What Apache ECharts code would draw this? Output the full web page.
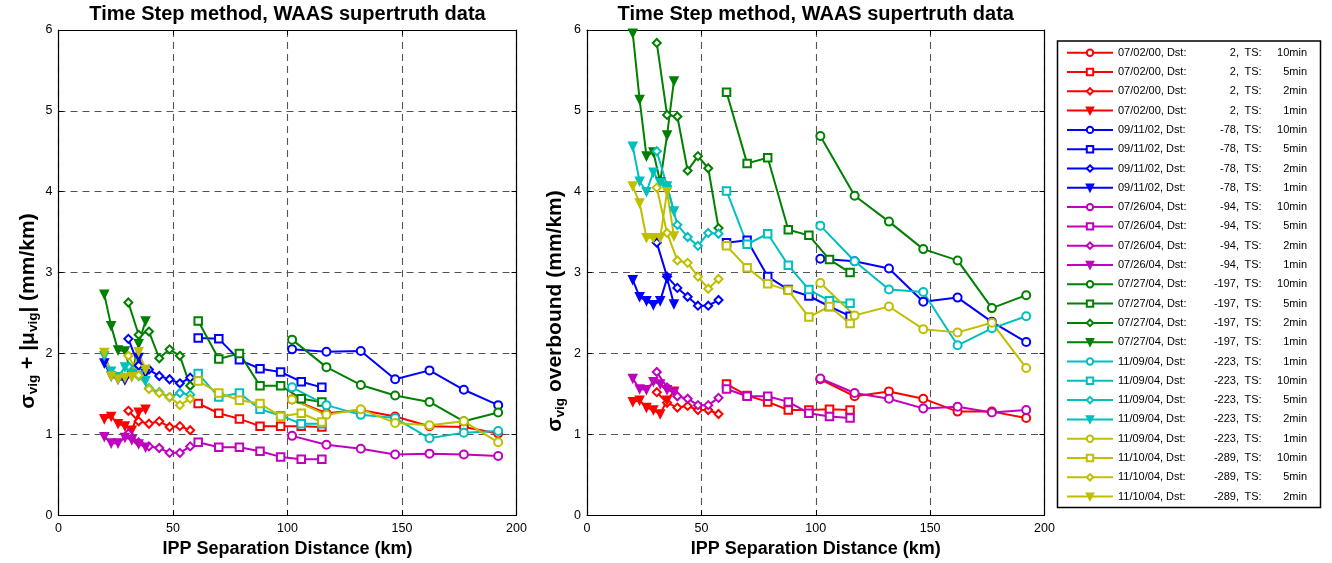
<!DOCTYPE html>
<html>
<head>
<meta charset="utf-8">
<script src="https://cdn.jsdelivr.net/npm/echarts@6.0.0/dist/echarts.min.js"></script>
<style>
  html, body { margin: 0; padding: 0; background: #fff; }
  #chart { width: 1332px; height: 563px; }
</style>
</head>
<body>
<div id="chart"></div>
<script>
// IPP separation distances (km) for each time-step set
const xTen = [102, 117, 132, 147, 162, 177, 192];
const xFive = [61, 70, 79, 88, 97, 106, 115];
const xTwo = [30.5, 35, 39.5, 44, 48.5, 53, 57.5];
const xOne = [20, 23, 26, 29, 32, 35, 38];

const xTicks = [0, 50, 100, 150, 200];
const yTicks = [0, 1, 2, 3, 4, 5, 6];

const legendNames = [
  '07/02/00, Dst:    2, TS: 10min',
  '07/02/00, Dst:    2, TS:  5min',
  '07/02/00, Dst:    2, TS:  2min',
  '07/02/00, Dst:    2, TS:  1min',
  '09/11/02, Dst:  -78, TS: 10min',
  '09/11/02, Dst:  -78, TS:  5min',
  '09/11/02, Dst:  -78, TS:  2min',
  '09/11/02, Dst:  -78, TS:  1min',
  '07/26/04, Dst:  -94, TS: 10min',
  '07/26/04, Dst:  -94, TS:  5min',
  '07/26/04, Dst:  -94, TS:  2min',
  '07/26/04, Dst:  -94, TS:  1min',
  '07/27/04, Dst: -197, TS: 10min',
  '07/27/04, Dst: -197, TS:  5min',
  '07/27/04, Dst: -197, TS:  2min',
  '07/27/04, Dst: -197, TS:  1min',
  '11/09/04, Dst: -223, TS:  1min',
  '11/09/04, Dst: -223, TS: 10min',
  '11/09/04, Dst: -223, TS:  5min',
  '11/09/04, Dst: -223, TS:  2min',
  '11/09/04, Dst: -223, TS:  1min\u200b',
  '11/10/04, Dst: -289, TS: 10min',
  '11/10/04, Dst: -289, TS:  5min',
  '11/10/04, Dst: -289, TS:  2min'
];

const groupColors = ['#ff0000', '#0000ff', '#bf00bf', '#008000', '#00bfbf', '#bfbf00'];

// Left panel: sigma_vig + |mu_vig| (mm/km); rows = circle, square, diamond, triangle sets
const left070200 = [
  [1.43, 1.26, 1.30, 1.22, 1.10, 1.09, 1.01],
  [1.38, 1.26, 1.19, 1.10, 1.10, 1.10, 1.09],
  [1.29, 1.16, 1.13, 1.16, 1.09, 1.10, 1.05],
  [1.19, 1.22, 1.13, 1.10, 1.05, 1.27, 1.31]
];
const left091102 = [
  [2.05, 2.02, 2.03, 1.68, 1.79, 1.55, 1.36],
  [2.19, 2.18, 1.92, 1.81, 1.77, 1.65, 1.58],
  [2.18, 1.85, 1.80, 1.72, 1.68, 1.63, 1.70],
  [1.88, 1.72, 1.68, 1.67, 1.73, 1.95, 1.75]
];
const left072604 = [
  [0.98, 0.87, 0.82, 0.75, 0.76, 0.75, 0.73],
  [0.90, 0.84, 0.84, 0.79, 0.72, 0.69, 0.69],
  [1.01, 0.90, 0.85, 0.83, 0.77, 0.77, 0.85],
  [0.97, 0.89, 0.89, 0.96, 0.93, 0.88, 0.84]
];
const left072704 = [
  [2.17, 1.83, 1.61, 1.48, 1.40, 1.16, 1.27],
  [2.40, 1.93, 2.00, 1.60, 1.60, 1.44, 1.40],
  [2.63, 2.23, 2.27, 1.94, 2.05, 1.97, 1.60],
  [2.73, 2.34, 2.04, 2.03, 1.72, 2.12, 2.40]
];
const left110904 = [
  [1.58, 1.36, 1.24, 1.20, 0.95, 1.02, 1.04],
  [1.75, 1.46, 1.51, 1.31, 1.23, 1.13, 1.13],
  [1.84, 1.72, 1.57, 1.52, 1.46, 1.51, 1.49],
  [1.97, 1.78, 1.71, 1.83, 1.75, 1.73, 1.66]
];
const left111004 = [
  [1.43, 1.24, 1.31, 1.14, 1.11, 1.16, 0.90],
  [1.66, 1.51, 1.42, 1.38, 1.22, 1.26, 1.15],
  [1.97, 1.73, 1.56, 1.51, 1.46, 1.36, 1.44],
  [2.01, 1.72, 1.68, 1.70, 1.71, 2.02, 1.80]
];

// Right panel: sigma_vig overbound (mm/km)
const right070200 = [
  [1.68, 1.47, 1.53, 1.44, 1.28, 1.28, 1.20],
  [1.62, 1.48, 1.40, 1.30, 1.30, 1.31, 1.30],
  [1.52, 1.39, 1.33, 1.35, 1.30, 1.30, 1.25],
  [1.40, 1.42, 1.33, 1.30, 1.25, 1.42, 1.53]
];
const right091102 = [
  [3.17, 3.14, 3.05, 2.64, 2.69, 2.39, 2.14],
  [3.37, 3.40, 2.95, 2.79, 2.71, 2.58, 2.46],
  [3.37, 2.95, 2.81, 2.70, 2.59, 2.59, 2.66],
  [2.91, 2.70, 2.65, 2.60, 2.65, 2.93, 2.61]
];
const right072604 = [
  [1.69, 1.51, 1.44, 1.32, 1.34, 1.27, 1.30],
  [1.56, 1.47, 1.47, 1.40, 1.26, 1.22, 1.20],
  [1.77, 1.58, 1.47, 1.44, 1.36, 1.36, 1.45],
  [1.69, 1.56, 1.55, 1.65, 1.62, 1.55, 1.52]
];
const right072704 = [
  [4.69, 3.95, 3.63, 3.29, 3.15, 2.56, 2.72],
  [5.23, 4.35, 4.42, 3.53, 3.46, 3.16, 3.00],
  [5.84, 4.95, 4.93, 4.26, 4.44, 4.29, 3.55],
  [5.96, 5.14, 4.44, 4.49, 4.12, 4.70, 5.37]
];
const right110904 = [
  [3.58, 3.14, 2.79, 2.76, 2.10, 2.31, 2.46],
  [4.01, 3.35, 3.48, 3.09, 2.79, 2.65, 2.62],
  [4.50, 4.07, 3.59, 3.44, 3.33, 3.49, 3.48],
  [4.56, 4.13, 4.00, 4.24, 4.11, 4.07, 3.76]
];
const right111004 = [
  [2.87, 2.47, 2.58, 2.30, 2.26, 2.38, 1.82],
  [3.33, 3.06, 2.86, 2.78, 2.45, 2.58, 2.37],
  [4.05, 3.49, 3.15, 3.12, 2.95, 2.80, 2.92],
  [4.07, 3.86, 3.43, 3.43, 3.43, 4.00, 3.45]
];

const leftGroups = [left070200, left091102, left072604, left072704, left110904, left111004];
const rightGroups = [right070200, right091102, right072604, right072704, right110904, right111004];
const xByMarker = [xTen, xFive, xTwo, xOne];

const markerStyles = [
  { symbol: 'emptyCircle', symbolSize: 8, symbolRotate: 0 },
  { symbol: 'emptyRect', symbolSize: 7.5, symbolRotate: 0 },
  { symbol: 'emptyDiamond', symbolSize: 8, symbolRotate: 0 },
  { symbol: 'triangle', symbolSize: 8, symbolRotate: 180 }
];

const FONT = "'Liberation Sans', Arial, Helvetica, sans-serif";

function buildSeries(groups, axisIndex) {
  const out = [];
  groups.forEach((rows, g) => {
    rows.forEach((vals, m) => {
      const color = groupColors[g];
      out.push(Object.assign({
        type: 'line',
        name: legendNames[g * 4 + m],
        xAxisIndex: axisIndex,
        yAxisIndex: axisIndex,
        data: vals.map((v, i) => [xByMarker[m][i], v]),
        lineStyle: { color: color, width: 2 },
        itemStyle: { color: color, borderColor: color, borderWidth: 1.6 },
        emphasis: { disabled: true },
        showAllSymbol: true,
        animation: false,
        silent: true
      }, markerStyles[m]));
    });
  });
  return out;
}

const grids = [
  { left: 58.5, right: 1332 - 516.5, top: 30, bottom: 563 - 516 },
  { left: 587, right: 1332 - 1044.5, top: 30, bottom: 563 - 516 }
];

const frameLine = { show: true, onZero: false, lineStyle: { color: '#000', width: 1.2 } };
const innerTick = { show: true, inside: true, length: 5, lineStyle: { color: '#000', width: 1 } };
const gridDash = { show: true, lineStyle: { color: '#555', width: 1.1, type: [7, 5] } };
const tickFont = { color: '#000', fontSize: 12.5, fontFamily: FONT };

function xAxesFor(gridIndex) {
  return [
    {
      type: 'value', gridIndex: gridIndex, position: 'bottom',
      min: xTicks[0], max: xTicks[xTicks.length - 1], interval: xTicks[1] - xTicks[0],
      axisLine: frameLine, axisTick: innerTick, splitLine: gridDash,
      axisLabel: Object.assign({ margin: 7 }, tickFont),
      name: 'IPP Separation Distance (km)', nameLocation: 'middle', nameGap: 23,
      nameTextStyle: { color: '#000', fontSize: 18, fontWeight: 'bold', fontFamily: FONT }
    },
    {
      type: 'value', gridIndex: gridIndex, position: 'top',
      min: xTicks[0], max: xTicks[xTicks.length - 1], interval: xTicks[1] - xTicks[0],
      axisLine: frameLine, axisTick: innerTick, splitLine: { show: false },
      axisLabel: { show: false }
    }
  ];
}
function yAxesFor(gridIndex) {
  return [
    {
      type: 'value', gridIndex: gridIndex, position: 'left',
      min: yTicks[0], max: yTicks[yTicks.length - 1], interval: 1,
      axisLine: frameLine, axisTick: innerTick, splitLine: gridDash,
      axisLabel: Object.assign({ margin: 6 }, tickFont)
    },
    {
      type: 'value', gridIndex: gridIndex, position: 'right',
      min: yTicks[0], max: yTicks[yTicks.length - 1], interval: 1,
      axisLine: frameLine, axisTick: innerTick, splitLine: { show: false },
      axisLabel: { show: false }
    }
  ];
}

// Legend text columns: date + "Dst:", right-aligned Dst value, "TS:", right-aligned step
const legendRow = 19.3;
const legendSize = 11;
const legendFont = { fontSize: legendSize, fontFamily: FONT, color: '#000', lineHeight: legendRow };
const textX0 = 1066 + 46 + 5;
const dstRight = 1238, tsLeft = 1243.5, stepRight = 1306;

const measureCtx = document.createElement('canvas').getContext('2d');
function textWidth(s) {
  measureCtx.font = legendSize + 'px ' + FONT;
  return measureCtx.measureText(s).width;
}

const legendRich = { d: Object.assign({}, legendFont) };
const legendText = {};
legendNames.forEach((name, i) => {
  const p = name.match(/^(.*?Dst:)\s*(-?\d+),\s*TS:\s*(\d+min)/);
  const dW = textWidth(p[1]);
  const nW = textWidth(p[2] + ',');
  const tW = textWidth('TS:');
  const mW = textWidth(p[3]);
  legendRich['n' + i] = Object.assign({ padding: [0, 0, 0, Math.max(0, dstRight - textX0 - dW - nW)] }, legendFont);
  legendRich['t' + i] = Object.assign({ padding: [0, 0, 0, tsLeft - dstRight] }, legendFont);
  legendRich['m' + i] = Object.assign({ padding: [0, 0, 0, Math.max(0, stepRight - tsLeft - tW - mW)] }, legendFont);
  legendText[name] = '{d|' + p[1] + '}{n' + i + '|' + p[2] + ',}{t' + i + '|TS:}{m' + i + '|' + p[3] + '}';
});

const titleText = 'Time Step method, WAAS supertruth data';
const titleStyle = { fontSize: 20, fontWeight: 'bold', fontFamily: FONT, fill: '#000', align: 'center', verticalAlign: 'middle' };
const ylabelRich = {
  g: { fontSize: 21, fontWeight: 'bold', fontFamily: FONT, fill: '#000', lineHeight: 25, verticalAlign: 'middle' },
  s: { fontSize: 13.5, fontWeight: 'bold', fontFamily: FONT, fill: '#000', lineHeight: 14, verticalAlign: 'bottom' }
};

const option = {
  backgroundColor: '#fff',
  animation: false,
  grid: grids,
  xAxis: xAxesFor(0).concat(xAxesFor(1)),
  yAxis: yAxesFor(0).concat(yAxesFor(1)),
  legend: {
    orient: 'vertical',
    left: 1066,
    top: 52.7 - legendRow / 2,
    padding: 0,
    itemGap: 0,
    itemWidth: 46,
    itemHeight: 8,
    selectedMode: false,
    data: legendNames,
    textStyle: Object.assign({ rich: legendRich }, legendFont),
    formatter: function (name) { return legendText[name]; }
  },
  graphic: [
    { type: 'text', x: (58.5 + 516.5) / 2, y: 14, style: Object.assign({ text: titleText }, titleStyle) },
    { type: 'text', x: (587 + 1044.5) / 2, y: 14, style: Object.assign({ text: titleText }, titleStyle) },
    {
      type: 'text', x: 28, y: 311, rotation: Math.PI / 2,
      style: { text: '{g|σ}{s|vig}{g| + |μ}{s|vig}{g|| (mm/km)}', rich: ylabelRich, align: 'center', verticalAlign: 'middle' }
    },
    {
      type: 'text', x: 555, y: 311, rotation: Math.PI / 2,
      style: { text: '{g|σ}{s|vig}{g| overbound (mm/km)}', rich: ylabelRich, align: 'center', verticalAlign: 'middle' }
    },
    {
      type: 'rect', silent: true, z: -1,
      shape: { x: 1057.5, y: 41, width: 263, height: 466.5 },
      style: { fill: '#fff', stroke: '#000', lineWidth: 1.5 }
    }
  ],
  series: buildSeries(leftGroups, 0).concat(buildSeries(rightGroups, 2))
};

const chart = echarts.init(document.getElementById('chart'), null, { renderer: 'canvas' });
chart.setOption(option);
</script>
</body>
</html>
